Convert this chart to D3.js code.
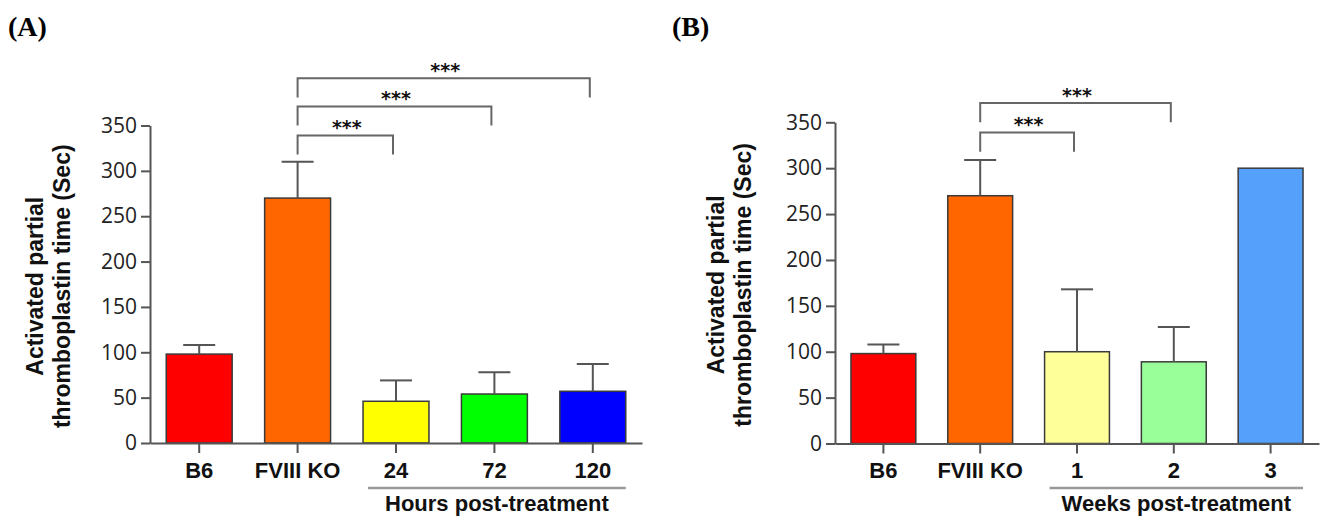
<!DOCTYPE html>
<html>
<head>
<meta charset="utf-8">
<script src="https://cdn.jsdelivr.net/npm/d3@7"></script>
<style>
  body { margin: 0; background: #fff; }
  #chart { width: 1320px; height: 517px; }
</style>
</head>
<body>
<div id="chart"></div>
<script>
// values
const categoriesA = ["B6", "FVIII KO", "24", "72", "120"];
const meansA = [98, 270, 46, 54, 57];
const semA = [10, 40, 23, 24, 30];
const colorsA = ["#ff0000", "#ff6600", "#ffff00", "#00ff00", "#0000ff"];

const categoriesB = ["B6", "FVIII KO", "1", "2", "3"];
const meansB = [98, 270, 100, 89, 300];
const semB = [10, 39, 68, 38, null];
const colorsB = ["#ff0000", "#ff6600", "#ffff99", "#99ff99", "#55a0fa"];

const yTicks = [0, 50, 100, 150, 200, 250, 300, 350];
const yLabelLines = ["Activated partial", "thromboplastin time (Sec)"];

// significance brackets: [from, to, level, leg end]
const sigA = [["FVIII KO", "24", 339, 318], ["FVIII KO", "72", 371, 350], ["FVIII KO", "120", 402, 381]];
const sigB = [["FVIII KO", "1", 339, 318], ["FVIII KO", "2", 371, 350]];

const groupA = { from: "24", to: "120", label: "Hours post-treatment" };
const groupB = { from: "1", to: "3", label: "Weeks post-treatment" };

const svg = d3.select("#chart").append("svg")
    .attr("width", 1320)
    .attr("height", 517);

function drawPanel(p) {
    const g = svg.append("g");

    const x = d3.scaleBand()
        .domain(p.categories)
        .range([p.x0, p.x1])
        .paddingInner(0.33)
        .paddingOuter(0.165);

    const y = d3.scaleLinear()
        .domain([0, 350])
        .range([p.y0, p.y1]);

    // panel letter
    g.append("text")
        .attr("x", p.letterX)
        .attr("y", 36)
        .style("font-family", "'Liberation Serif', 'Times New Roman', serif")
        .style("font-weight", "bold")
        .style("font-size", "28px")
        .text(p.letter);

    // bars
    const data = p.categories.map((c, i) => ({ c, m: p.means[i], e: p.sem[i], col: p.colors[i] }));

    g.append("g").selectAll("rect")
        .data(data)
        .enter()
        .append("rect")
        .attr("x", d => x(d.c))
        .attr("y", d => y(d.m))
        .attr("width", x.bandwidth())
        .attr("height", d => y(0) - y(d.m))
        .attr("fill", d => d.col)
        .attr("stroke", "#3a3a3a")
        .attr("stroke-width", 1.5);

    // error bars (upper only)
    const eb = g.append("g").selectAll("g")
        .data(data.filter(d => d.e != null))
        .enter()
        .append("g")
        .attr("stroke", "#555")
        .attr("stroke-width", 2);
    eb.append("line")
        .attr("x1", d => x(d.c) + x.bandwidth() / 2)
        .attr("x2", d => x(d.c) + x.bandwidth() / 2)
        .attr("y1", d => y(d.m))
        .attr("y2", d => y(d.m + d.e));
    eb.append("line")
        .attr("x1", d => x(d.c) + x.bandwidth() / 2 - 16)
        .attr("x2", d => x(d.c) + x.bandwidth() / 2 + 16)
        .attr("y1", d => y(d.m + d.e))
        .attr("y2", d => y(d.m + d.e));

    // axes
    const yAxis = g.append("g")
        .attr("transform", `translate(${p.x0},0)`)
        .call(d3.axisLeft(y).tickValues(yTicks).tickSize(9).tickSizeOuter(0).tickPadding(4));
    yAxis.selectAll("line, path").attr("stroke", "#555").attr("stroke-width", 2);
    yAxis.selectAll("text")
        .style("font-family", "'Open Sans', sans-serif")
        .style("font-size", "21px")
        .attr("fill", "#222");

    const xAxis = g.append("g")
        .attr("transform", `translate(0,${y(0)})`)
        .call(d3.axisBottom(x).tickSize(10).tickSizeOuter(0).tickPadding(9));
    xAxis.selectAll("line, path").attr("stroke", "#555").attr("stroke-width", 2);
    xAxis.selectAll("text")
        .style("font-family", "'Liberation Sans', Arial, sans-serif")
        .style("font-weight", "bold")
        .style("font-size", "22px")
        .attr("fill", "#111");

    // y label
    const yl = g.append("text")
        .attr("transform", `translate(${p.x0},${(p.y0 + p.y1) / 2 + 2}) rotate(-90)`)
        .attr("text-anchor", "middle")
        .style("font-family", "'Liberation Sans', Arial, sans-serif")
        .style("font-weight", "bold")
        .style("font-size", "23px")
        .attr("fill", "#111");
    yLabelLines.forEach((t, i) => {
        yl.append("tspan")
            .attr("x", 0)
            .attr("y", p.labelOffsets[i])
            .text(t);
    });

    // group underline + caption
    const gx0 = x(p.group.from) + 5;
    const gx1 = x(p.group.to) + x.bandwidth();
    g.append("line")
        .attr("x1", gx0).attr("x2", gx1)
        .attr("y1", 488).attr("y2", 488)
        .attr("stroke", "#999")
        .attr("stroke-width", 2.5);
    g.append("text")
        .attr("x", (gx0 + gx1) / 2)
        .attr("y", 511)
        .attr("text-anchor", "middle")
        .style("font-family", "'Liberation Sans', Arial, sans-serif")
        .style("font-weight", "bold")
        .style("font-size", "22px")
        .attr("fill", "#111")
        .text(p.group.label);

    // significance brackets
    const sg = g.append("g").selectAll("g")
        .data(p.sig)
        .enter()
        .append("g");
    sg.append("path")
        .attr("d", d => {
            const a = x(d[0]) + x.bandwidth() / 2;
            const b = x(d[1]) + x.bandwidth() / 2 - 3;
            return `M${a},${y(d[3])}V${y(d[2])}H${b}V${y(d[3])}`;
        })
        .attr("fill", "none")
        .attr("stroke", "#666")
        .attr("stroke-width", 2);
    sg.append("text")
        .attr("x", d => (x(d[0]) + x(d[1]) + x.bandwidth()) / 2)
        .attr("y", d => y(d[2]) - 1)
        .attr("text-anchor", "middle")
        .style("font-family", "'DejaVu Sans', sans-serif")
        .style("font-weight", "bold")
        .style("font-size", "19px")
        .attr("fill", "#111")
        .text("***");
}

drawPanel({
    letter: "(A)", letterX: 8,
    categories: categoriesA, means: meansA, sem: semA, colors: colorsA,
    x0: 150, x1: 642, y0: 443, y1: 125.5,
    labelOffsets: [-107, -80],
    group: groupA, sig: sigA
});

drawPanel({
    letter: "(B)", letterX: 672,
    categories: categoriesB, means: meansB, sem: semB, colors: colorsB,
    x0: 835, x1: 1319, y0: 443.5, y1: 122.3,
    labelOffsets: [-111, -84],
    group: groupB, sig: sigB
});
</script>
</body>
</html>
